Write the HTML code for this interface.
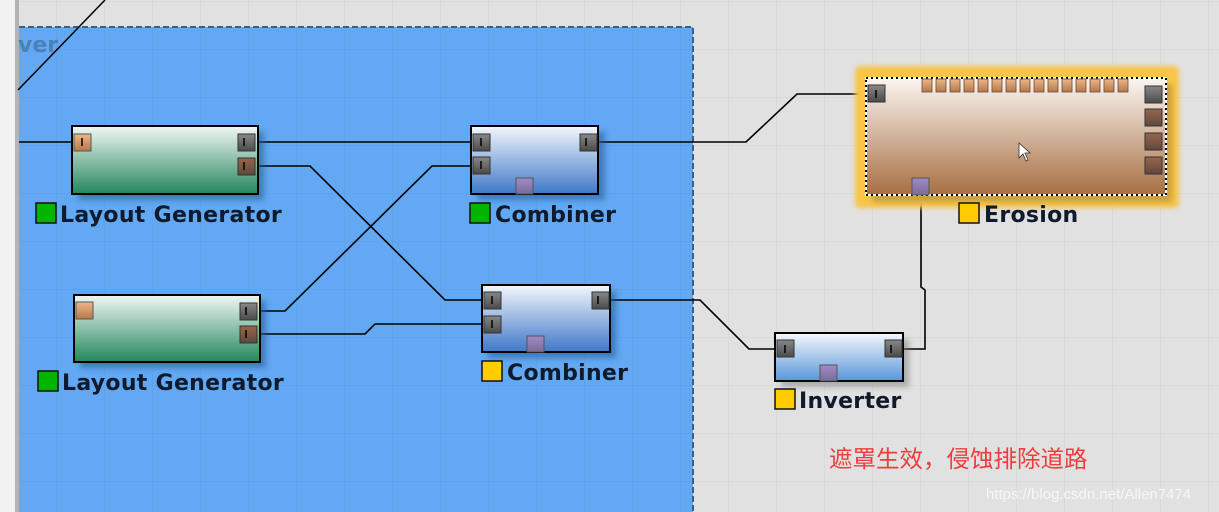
<!DOCTYPE html>
<html><head><meta charset="utf-8"><style>
html,body{margin:0;padding:0;width:1219px;height:512px;overflow:hidden;background:#e1e1e1}
svg{display:block}
.lbl{font-family:"DejaVu Sans","Liberation Sans",sans-serif;font-weight:bold;font-size:22px;fill:#0f1a2c;letter-spacing:0.3px}
</style></head><body>
<svg width="1219" height="512" viewBox="0 0 1219 512" xmlns="http://www.w3.org/2000/svg">
<defs>
<pattern id="grid" x="8" y="1" width="48" height="48" patternUnits="userSpaceOnUse">
<path d="M0 0V48M0 0H48" stroke="#d2d2d2" stroke-width="1" fill="none"/></pattern>
<pattern id="gridb" x="8" y="1" width="48" height="48" patternUnits="userSpaceOnUse">
<path d="M0 0V48M0 0H48" stroke="#5a9fe6" stroke-width="1" fill="none"/></pattern>
<linearGradient id="gg" x1="0" y1="0" x2="0" y2="1"><stop offset="0" stop-color="#f2f7f4"/><stop offset="1" stop-color="#23875d"/></linearGradient>
<linearGradient id="bg" x1="0" y1="0" x2="0" y2="1"><stop offset="0" stop-color="#f4f7fc"/><stop offset="1" stop-color="#3f78c8"/></linearGradient>
<linearGradient id="ig" x1="0" y1="0" x2="0" y2="1"><stop offset="0" stop-color="#f4f8fc"/><stop offset="1" stop-color="#5a96da"/></linearGradient>
<linearGradient id="eg" x1="0" y1="0" x2="0" y2="1"><stop offset="0" stop-color="#fbf6f2"/><stop offset="1" stop-color="#a86f42"/></linearGradient>
<linearGradient id="pg" x1="0" y1="0" x2="0" y2="1"><stop offset="0" stop-color="#888"/><stop offset="1" stop-color="#4a4a4a"/></linearGradient>
<linearGradient id="po" x1="0" y1="0" x2="0" y2="1"><stop offset="0" stop-color="#efb787"/><stop offset="1" stop-color="#b5784a"/></linearGradient>
<linearGradient id="pb" x1="0" y1="0" x2="0" y2="1"><stop offset="0" stop-color="#9a6448"/><stop offset="1" stop-color="#5c4a40"/></linearGradient>
<linearGradient id="pp" x1="0" y1="0" x2="0" y2="1"><stop offset="0" stop-color="#a08ac8"/><stop offset="1" stop-color="#7a6c98"/></linearGradient>
<filter id="sh" x="-20%" y="-20%" width="140%" height="160%"><feGaussianBlur stdDeviation="3"/></filter>
<filter id="gl" x="-10%" y="-20%" width="120%" height="140%"><feGaussianBlur stdDeviation="2.5"/></filter>
</defs>
<rect width="1219" height="512" fill="#e1e1e1"/>
<rect width="1219" height="512" fill="url(#grid)"/>
<rect x="0" y="0" width="15" height="512" fill="#f2f2f2"/>
<rect x="15" y="0" width="4" height="512" fill="#b4b4b4"/>
<rect x="19" y="27" width="674" height="485" fill="#62a8f3"/>
<rect x="19" y="27" width="674" height="485" fill="url(#gridb)"/>
<path d="M19 27H693V512" fill="none" stroke="#3e5f80" stroke-width="2" stroke-dasharray="6,3"/>
<text x="18" y="52" font-family="DejaVu Sans,sans-serif" font-weight="bold" font-size="22" fill="#4a82b8">ver</text>
<line x1="18" y1="90" x2="105" y2="0" stroke="#000" stroke-width="1.5"/>

<!-- wires -->
<g fill="none" stroke="#000" stroke-width="1.6">
<path d="M19 142H82"/>
<path d="M244 142H481"/>
<path d="M244 166H310L445 300H492"/>
<path d="M246 311H285L432 166H481"/>
<path d="M246 334H365L375 324H492"/>
<path d="M586 142H746L797 94H876"/>
<path d="M598 300H700L749 349H785"/>
<path d="M891 349H925V290L921 287V190"/>
</g>

<!-- Layout Generator 1 -->
<rect x="78" y="132" width="186" height="68" fill="#2c5c9a" opacity=".6" filter="url(#sh)"/>
<rect x="72" y="126" width="186" height="68" fill="url(#gg)" stroke="#000" stroke-width="2"/>
<rect x="74" y="134" width="17" height="17" fill="url(#po)" stroke="#555"/>
<rect x="238" y="134" width="17" height="17" fill="url(#pg)" stroke="#333"/>
<rect x="238" y="158" width="17" height="17" fill="url(#pb)" stroke="#333"/>
<rect x="36" y="203" width="20" height="20" fill="#00b400" stroke="#111" stroke-width="1.5"/>
<text class="lbl" x="60" y="222">Layout Generator</text>

<!-- Layout Generator 2 -->
<rect x="80" y="301" width="186" height="67" fill="#2c5c9a" opacity=".6" filter="url(#sh)"/>
<rect x="74" y="295" width="186" height="67" fill="url(#gg)" stroke="#000" stroke-width="2"/>
<rect x="76" y="302" width="17" height="17" fill="url(#po)" stroke="#555"/>
<rect x="240" y="303" width="17" height="17" fill="url(#pg)" stroke="#333"/>
<rect x="240" y="326" width="17" height="17" fill="url(#pb)" stroke="#333"/>
<rect x="38" y="371" width="20" height="20" fill="#00b400" stroke="#111" stroke-width="1.5"/>
<text class="lbl" x="62" y="390">Layout Generator</text>

<!-- Combiner 1 -->
<rect x="477" y="132" width="128" height="68" fill="#2c5c9a" opacity=".6" filter="url(#sh)"/>
<rect x="471" y="126" width="127" height="68" fill="url(#bg)" stroke="#000" stroke-width="2"/>
<rect x="473" y="134" width="17" height="17" fill="url(#pg)" stroke="#333"/>
<rect x="473" y="157" width="17" height="17" fill="url(#pg)" stroke="#333"/>
<rect x="580" y="134" width="17" height="17" fill="url(#pg)" stroke="#333"/>
<rect x="516" y="178" width="17" height="16" fill="url(#pp)" stroke="#555"/>
<rect x="470" y="203" width="20" height="20" fill="#00b400" stroke="#111" stroke-width="1.5"/>
<text class="lbl" x="495" y="222">Combiner</text>

<!-- Combiner 2 -->
<rect x="488" y="291" width="128" height="67" fill="#2c5c9a" opacity=".6" filter="url(#sh)"/>
<rect x="482" y="285" width="128" height="67" fill="url(#bg)" stroke="#000" stroke-width="2"/>
<rect x="484" y="292" width="17" height="17" fill="url(#pg)" stroke="#333"/>
<rect x="484" y="316" width="17" height="17" fill="url(#pg)" stroke="#333"/>
<rect x="592" y="292" width="17" height="17" fill="url(#pg)" stroke="#333"/>
<rect x="527" y="336" width="17" height="16" fill="url(#pp)" stroke="#555"/>
<rect x="482" y="361" width="20" height="20" fill="#ffcc00" stroke="#111" stroke-width="1.5"/>
<text class="lbl" x="507" y="380">Combiner</text>

<!-- Inverter -->
<rect x="781" y="339" width="128" height="48" fill="#777" opacity=".5" filter="url(#sh)"/>
<rect x="775" y="333" width="128" height="48" fill="url(#ig)" stroke="#000" stroke-width="2"/>
<rect x="777" y="340" width="17" height="17" fill="url(#pg)" stroke="#333"/>
<rect x="885" y="340" width="17" height="17" fill="url(#pg)" stroke="#333"/>
<rect x="820" y="365" width="17" height="16" fill="url(#pp)" stroke="#555"/>
<rect x="775" y="389" width="20" height="20" fill="#ffcc00" stroke="#111" stroke-width="1.5"/>
<text class="lbl" x="799" y="408">Inverter</text>

<!-- Erosion -->
<rect x="855" y="66" width="324" height="142" fill="#f8c54a" rx="5" filter="url(#gl)"/>
<rect x="872" y="84" width="300" height="118" fill="#9a7a30" opacity=".5" filter="url(#sh)"/>
<rect x="866" y="78" width="300" height="117" fill="url(#eg)" stroke="#fff" stroke-width="2"/>
<rect x="866" y="78" width="300" height="117" fill="none" stroke="#000" stroke-width="2" stroke-dasharray="2,3"/>
<g fill="url(#po)" stroke="#6a4a38" stroke-width="0.8">
<rect x="922" y="79" width="10" height="13"/><rect x="936" y="79" width="10" height="13"/><rect x="950" y="79" width="10" height="13"/><rect x="964" y="79" width="10" height="13"/><rect x="978" y="79" width="10" height="13"/><rect x="992" y="79" width="10" height="13"/><rect x="1006" y="79" width="10" height="13"/><rect x="1020" y="79" width="10" height="13"/><rect x="1034" y="79" width="10" height="13"/><rect x="1048" y="79" width="10" height="13"/><rect x="1062" y="79" width="10" height="13"/><rect x="1076" y="79" width="10" height="13"/><rect x="1090" y="79" width="10" height="13"/><rect x="1104" y="79" width="10" height="13"/><rect x="1118" y="79" width="10" height="13"/>
</g>
<rect x="868" y="85" width="17" height="17" fill="url(#pg)" stroke="#333"/>
<rect x="1145" y="86" width="17" height="17" fill="url(#pg)" stroke="#333"/>
<rect x="1145" y="109" width="17" height="17" fill="url(#pb)" stroke="#333"/>
<rect x="1145" y="133" width="17" height="17" fill="url(#pb)" stroke="#333"/>
<rect x="1145" y="157" width="17" height="17" fill="url(#pb)" stroke="#333"/>
<rect x="912" y="178" width="17" height="17" fill="url(#pp)" stroke="#555"/>
<path d="M1019 143V158L1023 154L1026 161L1028 160L1025 153L1030 153Z" fill="#fff" stroke="#333" stroke-width="0.8"/>
<rect x="959" y="203" width="20" height="20" fill="#ffcc00" stroke="#111" stroke-width="1.5"/>
<text class="lbl" x="984" y="222">Erosion</text>

<!-- port ticks -->
<g stroke="#000" stroke-width="1.5">
<path d="M82 138V146M244 138V146M244 162V170M481 138V146M481 161V169M586 138V146M246 307V315M246 330V338M492 296V304M492 320V328M598 296V304M785 345V353M891 345V353M876 90V98"/>
</g>

<!-- annotation -->
<text x="829" y="467" font-family="'Liberation Sans','Noto Sans CJK SC',sans-serif" font-size="23.5" fill="#f03c3c">遮罩生效，侵蚀排除道路</text>
<text x="986" y="499" font-family="'Liberation Sans',sans-serif" font-size="15" fill="#f7f7f7">https://blog.csdn.net/Allen7474</text>
</svg>
</body></html>
